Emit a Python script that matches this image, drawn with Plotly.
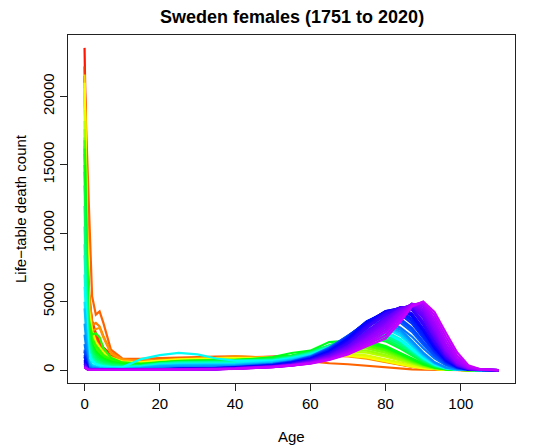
import colorsys
import plotly.graph_objects as go

ages = [0, 1, 2, 3, 4, 5, 7, 10, 15, 20, 25, 30, 35, 40, 50, 55, 60, 65, 70, 75,
        80, 84, 87, 90, 93, 96, 99, 102, 105, 110]

years = [1751, 1756, 1762, 1767, 1773, 1779, 1784, 1790, 1797, 1803, 1809, 1815,
         1822, 1829, 1835, 1842, 1848, 1854, 1857, 1862, 1869, 1875, 1882, 1889,
         1896, 1903, 1910, 1918, 1925, 1932, 1939, 1945, 1950, 1955, 1958, 1960,
         1965, 1968, 1970, 1975, 1978, 1980, 1985, 1988, 1990, 1995, 1998, 2000,
         2002, 2005, 2008, 2010, 2012, 2015, 2017, 2020]

# life-table deaths (radix 100000), one row per year above
deaths = [
    [21500, 5200, 3200, 2400, 1900, 1500, 1050, 700, 600, 700, 780, 820, 850, 880, 920, 980, 1060, 1130, 1150, 1000, 720, 470, 300, 170, 80, 30, 10, 3, 1, 0],
    [23550, 5600, 3500, 2600, 2000, 1600, 1100, 720, 620, 720, 800, 840, 870, 900, 940, 1000, 1080, 1140, 1120, 960, 680, 440, 280, 160, 75, 28, 9, 3, 1, 0],
    [22200, 5900, 3600, 2700, 2100, 1650, 1150, 760, 640, 730, 800, 850, 880, 920, 960, 1010, 1090, 1150, 1140, 990, 700, 460, 290, 165, 78, 29, 9, 3, 1, 0],
    [21300, 5000, 3100, 2300, 1800, 1400, 1000, 680, 580, 690, 770, 810, 840, 870, 910, 970, 1050, 1120, 1160, 1020, 740, 480, 310, 175, 82, 31, 10, 3, 1, 0],
    [21000, 13500, 5400, 4050, 4290, 3450, 1500, 850, 820, 880, 930, 960, 990, 1010, 900, 760, 620, 500, 430, 320, 160, 95, 60, 32, 14, 5, 2, 1, 0, 0],
    [20500, 6500, 3300, 3450, 3200, 2500, 1300, 800, 650, 720, 780, 820, 850, 880, 900, 950, 1020, 1080, 1060, 900, 620, 400, 250, 140, 65, 24, 8, 2, 1, 0],
    [21000, 6000, 2900, 3000, 3090, 2400, 1200, 780, 640, 740, 820, 860, 900, 1000, 920, 930, 980, 1030, 1000, 830, 560, 360, 225, 125, 58, 21, 7, 2, 0, 0],
    [20800, 4800, 2900, 2100, 1700, 1350, 950, 650, 560, 680, 760, 800, 830, 860, 900, 960, 1040, 1110, 1110, 960, 680, 440, 280, 155, 72, 27, 9, 3, 1, 0],
    [21600, 4600, 2800, 2000, 1600, 1300, 900, 630, 540, 660, 740, 780, 810, 840, 890, 950, 1030, 1100, 1100, 960, 690, 450, 285, 160, 75, 28, 9, 3, 1, 0],
    [20600, 4700, 2800, 2050, 1650, 1300, 900, 620, 540, 650, 730, 770, 800, 830, 880, 940, 1020, 1090, 1080, 950, 680, 440, 280, 158, 74, 27, 9, 3, 1, 0],
    [21000, 4500, 2700, 1950, 1550, 1250, 880, 610, 560, 700, 780, 820, 850, 870, 900, 960, 1040, 1100, 1060, 920, 650, 420, 265, 150, 70, 26, 8, 2, 1, 0],
    [19000, 4200, 2500, 1800, 1450, 1150, 820, 570, 500, 620, 700, 740, 770, 800, 860, 930, 1030, 1140, 1200, 1080, 800, 540, 350, 200, 95, 35, 11, 3, 1, 0],
    [18200, 3900, 2300, 1650, 1350, 1080, 780, 540, 470, 590, 670, 710, 740, 770, 840, 930, 1060, 1220, 1350, 1280, 990, 680, 440, 250, 115, 42, 13, 4, 1, 0],
    [17600, 4100, 2400, 1750, 1400, 1100, 800, 550, 480, 600, 680, 720, 750, 780, 860, 960, 1110, 1300, 1470, 1420, 1100, 760, 490, 275, 125, 45, 14, 4, 1, 0],
    [17000, 3700, 2200, 1600, 1280, 1020, 740, 520, 450, 580, 660, 700, 720, 750, 840, 960, 1140, 1380, 1600, 1580, 1260, 880, 570, 320, 145, 52, 16, 4, 1, 0],
    [16400, 3500, 2100, 1500, 1200, 950, 700, 490, 430, 560, 640, 680, 700, 730, 830, 970, 1180, 1450, 1700, 1720, 1400, 980, 640, 360, 165, 60, 18, 5, 1, 0],
    [16800, 3600, 2150, 1550, 1230, 980, 720, 500, 440, 570, 650, 690, 710, 740, 850, 1000, 1220, 1520, 1790, 1820, 1490, 1050, 690, 390, 180, 65, 20, 5, 1, 0],
    [15800, 3500, 2300, 1800, 1450, 1100, 750, 500, 430, 560, 640, 680, 700, 730, 850, 1020, 1260, 1600, 1900, 1950, 1600, 1130, 740, 420, 195, 70, 21, 6, 1, 0],
    [16200, 3800, 2600, 2700, 2400, 1600, 900, 560, 450, 570, 650, 690, 710, 740, 870, 1050, 1300, 1680, 1980, 2000, 1650, 1170, 770, 435, 200, 72, 22, 6, 1, 0],
    [15000, 3200, 1900, 1350, 1080, 860, 630, 450, 400, 540, 620, 660, 680, 710, 850, 1060, 1330, 1750, 2080, 2120, 1760, 1260, 830, 470, 215, 78, 24, 6, 1, 0],
    [14500, 3000, 1750, 1250, 1000, 800, 590, 430, 390, 530, 610, 650, 670, 700, 950, 1250, 1420, 2050, 2150, 2100, 1700, 1220, 810, 460, 210, 76, 23, 6, 1, 0],
    [13500, 2900, 1600, 1100, 850, 680, 500, 380, 370, 520, 600, 640, 650, 680, 830, 1040, 1340, 1800, 2250, 2400, 2100, 1560, 1050, 600, 270, 95, 30, 8, 1, 0],
    [12000, 2600, 1400, 950, 720, 580, 430, 330, 350, 500, 580, 610, 620, 650, 800, 1000, 1300, 1780, 2280, 2500, 2250, 1700, 1150, 650, 290, 100, 32, 8, 2, 0],
    [10500, 2300, 1200, 800, 600, 480, 360, 290, 330, 480, 560, 590, 600, 620, 770, 970, 1270, 1760, 2300, 2600, 2400, 1850, 1250, 710, 320, 110, 35, 9, 2, 0],
    [9200, 2000, 1000, 660, 500, 400, 300, 250, 320, 470, 540, 570, 580, 600, 740, 940, 1240, 1740, 2320, 2700, 2550, 1980, 1350, 770, 345, 120, 38, 10, 2, 0],
    [8400, 1700, 850, 560, 420, 340, 260, 220, 300, 450, 520, 540, 550, 570, 710, 910, 1200, 1700, 2330, 2780, 2700, 2120, 1450, 830, 370, 130, 40, 10, 2, 0],
    [7000, 1300, 650, 430, 330, 270, 210, 190, 280, 420, 480, 500, 500, 520, 670, 870, 1160, 1670, 2330, 2850, 2850, 2260, 1550, 890, 400, 140, 44, 11, 2, 0],
    [6100, 1400, 700, 450, 350, 280, 220, 200, 800, 1100, 1260, 1150, 850, 700, 680, 850, 1120, 1600, 2200, 2700, 2700, 2150, 1500, 860, 390, 135, 42, 11, 2, 0],
    [5000, 850, 400, 280, 220, 180, 150, 130, 230, 380, 430, 440, 440, 460, 620, 820, 1110, 1620, 2300, 2900, 3050, 2500, 1750, 1020, 460, 160, 50, 13, 3, 0],
    [4500, 700, 320, 220, 170, 140, 120, 110, 190, 330, 370, 380, 380, 400, 560, 760, 1050, 1560, 2240, 2950, 3200, 2650, 1880, 1100, 500, 170, 53, 14, 3, 0],
    [3400, 500, 230, 160, 130, 110, 90, 80, 150, 270, 310, 320, 330, 350, 500, 700, 990, 1500, 2200, 2950, 3300, 2800, 2000, 1180, 540, 185, 58, 15, 3, 0],
    [2600, 300, 170, 120, 100, 80, 65, 60, 110, 190, 220, 240, 260, 300, 460, 650, 930, 1420, 2120, 2950, 3400, 2950, 2150, 1280, 590, 200, 62, 16, 3, 0],
    [1900, 180, 110, 80, 60, 50, 40, 35, 60, 100, 120, 150, 190, 260, 450, 650, 1000, 1650, 2500, 3350, 3580, 3100, 2450, 1600, 850, 350, 110, 25, 5, 0],
    [1500, 130, 80, 60, 45, 38, 32, 28, 50, 80, 95, 120, 160, 230, 420, 620, 960, 1600, 2500, 3450, 3800, 3450, 2800, 1850, 1000, 420, 135, 30, 6, 0],
    [1400, 110, 65, 50, 38, 32, 28, 25, 45, 72, 85, 108, 150, 220, 410, 610, 945, 1570, 2490, 3480, 3900, 3620, 2960, 1980, 1080, 450, 145, 33, 7, 0],
    [1350, 100, 60, 45, 35, 30, 26, 24, 42, 70, 80, 100, 140, 210, 400, 600, 930, 1550, 2480, 3500, 3980, 3750, 3100, 2100, 1150, 480, 155, 35, 7, 0],
    [1100, 80, 50, 38, 30, 26, 23, 22, 40, 65, 75, 95, 130, 200, 380, 580, 900, 1500, 2450, 3550, 4150, 4050, 3400, 2350, 1300, 550, 180, 40, 8, 0],
    [1000, 75, 45, 34, 28, 24, 21, 21, 39, 62, 72, 92, 128, 195, 370, 570, 885, 1475, 2430, 3560, 4210, 4200, 3580, 2500, 1390, 600, 195, 44, 9, 0],
    [950, 70, 42, 32, 26, 22, 20, 20, 38, 60, 70, 90, 125, 190, 360, 560, 870, 1450, 2400, 3550, 4250, 4320, 3750, 2650, 1480, 640, 210, 47, 10, 0],
    [750, 60, 36, 28, 22, 19, 17, 17, 35, 55, 65, 85, 120, 180, 340, 530, 830, 1380, 2300, 3500, 4300, 4450, 3950, 2850, 1620, 700, 230, 52, 11, 0],
    [660, 54, 32, 26, 20, 17, 15, 15, 32, 52, 62, 82, 115, 175, 330, 515, 810, 1340, 2240, 3450, 4310, 4510, 4060, 2960, 1700, 740, 245, 55, 12, 0],
    [600, 50, 30, 24, 19, 16, 14, 14, 30, 50, 60, 80, 110, 170, 320, 500, 790, 1300, 2180, 3400, 4300, 4550, 4150, 3050, 1780, 780, 260, 58, 13, 0],
    [500, 42, 26, 20, 16, 14, 12, 12, 27, 45, 55, 72, 100, 160, 300, 470, 750, 1230, 2050, 3250, 4200, 4580, 4400, 3300, 1950, 870, 290, 65, 15, 0],
    [470, 40, 24, 18, 15, 13, 11, 11, 26, 42, 52, 68, 95, 155, 290, 455, 725, 1190, 1975, 3150, 4130, 4600, 4480, 3420, 2050, 920, 310, 70, 16, 0],
    [450, 38, 22, 17, 14, 12, 11, 11, 25, 40, 50, 65, 90, 150, 280, 440, 700, 1150, 1900, 3050, 4050, 4600, 4550, 3550, 2150, 970, 330, 75, 17, 0],
    [380, 32, 18, 14, 12, 10, 9, 9, 22, 36, 45, 58, 82, 140, 260, 410, 660, 1080, 1780, 2850, 3850, 4550, 4680, 3800, 2350, 1080, 370, 85, 20, 1],
    [340, 30, 16, 13, 11, 9, 8, 8, 21, 34, 42, 55, 78, 135, 255, 400, 640, 1040, 1710, 2750, 3750, 4520, 4740, 3930, 2480, 1150, 395, 92, 22, 1],
    [300, 28, 15, 12, 10, 9, 8, 8, 20, 33, 40, 52, 75, 130, 250, 390, 620, 1000, 1650, 2650, 3650, 4480, 4780, 4050, 2600, 1220, 420, 100, 25, 1],
    [285, 26, 14, 11, 10, 8, 7, 7, 19, 32, 39, 50, 72, 128, 245, 380, 600, 970, 1590, 2540, 3520, 4430, 4800, 4200, 2750, 1310, 455, 110, 27, 1],
    [260, 24, 13, 10, 9, 8, 7, 7, 18, 30, 36, 47, 68, 120, 240, 370, 580, 930, 1520, 2420, 3400, 4350, 4830, 4350, 2900, 1400, 490, 120, 30, 1],
    [240, 22, 12, 9, 8, 7, 6, 6, 17, 28, 34, 44, 63, 115, 235, 360, 560, 890, 1440, 2300, 3250, 4250, 4850, 4500, 3100, 1520, 540, 135, 35, 2],
    [230, 20, 11, 9, 8, 7, 6, 6, 16, 27, 32, 42, 60, 110, 230, 350, 540, 860, 1380, 2200, 3100, 4150, 4850, 4650, 3300, 1650, 600, 150, 40, 2],
    [220, 19, 10, 8, 7, 6, 6, 6, 15, 26, 31, 40, 58, 105, 225, 340, 525, 830, 1320, 2080, 2930, 4030, 4830, 4780, 3520, 1880, 720, 180, 48, 2],
    [210, 18, 10, 8, 7, 6, 6, 6, 14, 25, 30, 38, 55, 100, 220, 330, 510, 800, 1260, 1950, 2750, 3900, 4800, 4900, 3750, 2150, 850, 220, 60, 3],
    [205, 17, 9, 7, 6, 6, 5, 5, 13, 24, 29, 36, 52, 98, 215, 325, 495, 770, 1200, 1850, 2530, 3730, 4730, 4970, 4000, 2450, 1050, 280, 70, 4],
    [200, 16, 9, 7, 6, 6, 5, 5, 13, 23, 28, 35, 50, 95, 210, 320, 480, 740, 1150, 1750, 2300, 3550, 4650, 5020, 4250, 2750, 1300, 350, 80, 5],
]

x_ticks = [0, 20, 40, 60, 80, 100]
y_ticks = [0, 5000, 10000, 15000, 20000]

first, last = 1751, 2020
n_years = last - first + 1


def year_colour(year):
    # R's rainbow(n * 1.25)[1:n] palette, red -> magenta
    h = (year - first) / (n_years * 1.25)
    r, g, b = colorsys.hsv_to_rgb(h, 1, 1)
    return f"rgb({int(r*255)},{int(g*255)},{int(b*255)})"


fig = go.Figure()
for year, dx in zip(years, deaths):
    fig.add_trace(go.Scatter(
        x=ages, y=dx, mode="lines",
        line=dict(color=year_colour(year), width=2.2),
        showlegend=False, hoverinfo="skip",
    ))

# R style 4% axis padding
x_lo, x_hi = min(ages), max(ages)
y_lo = min(min(r) for r in deaths)
y_hi = max(max(r) for r in deaths)
xpad = 0.04 * (x_hi - x_lo)
ypad = 0.04 * (y_hi - y_lo)

font = "Liberation Sans, Arial, Helvetica, sans-serif"

# the page body keeps its 8px default margin, so the figure is 8px smaller
fig.update_layout(
    width=528, height=438,
    margin=dict(l=60, r=21, t=27, b=63),
    paper_bgcolor="white", plot_bgcolor="white",
    font=dict(family=font, size=15, color="black"),
    annotations=[
        dict(text="<b>Sweden females (1751 to 2020)</b>", x=0.5, y=1, xref="paper", yref="paper",
             yanchor="middle", yshift=18, showarrow=False, font=dict(size=18)),
        dict(text="Age", x=0.5, y=0, xref="paper", yref="paper",
             yanchor="middle", yshift=-53, showarrow=False),
        dict(text="Life−table death count", x=0, y=0.5, xref="paper", yref="paper",
             xanchor="center", xshift=-48, textangle=-90, showarrow=False),
    ],
)

fig.update_xaxes(
    range=[x_lo - xpad, x_hi + xpad], tickvals=x_ticks, automargin=False,
    showline=True, mirror=True, linecolor="#222", linewidth=1,
    ticks="outside", ticklen=7, tickcolor="#222", showgrid=False, zeroline=False,
)
fig.update_yaxes(
    range=[y_lo - ypad, y_hi + ypad], tickvals=y_ticks, tickformat="d",
    tickangle=-90, automargin=False,
    showline=True, mirror=True, linecolor="#222", linewidth=1,
    ticks="outside", ticklen=7, tickcolor="#222", showgrid=False, zeroline=False,
)

fig.write_html("out.html")
